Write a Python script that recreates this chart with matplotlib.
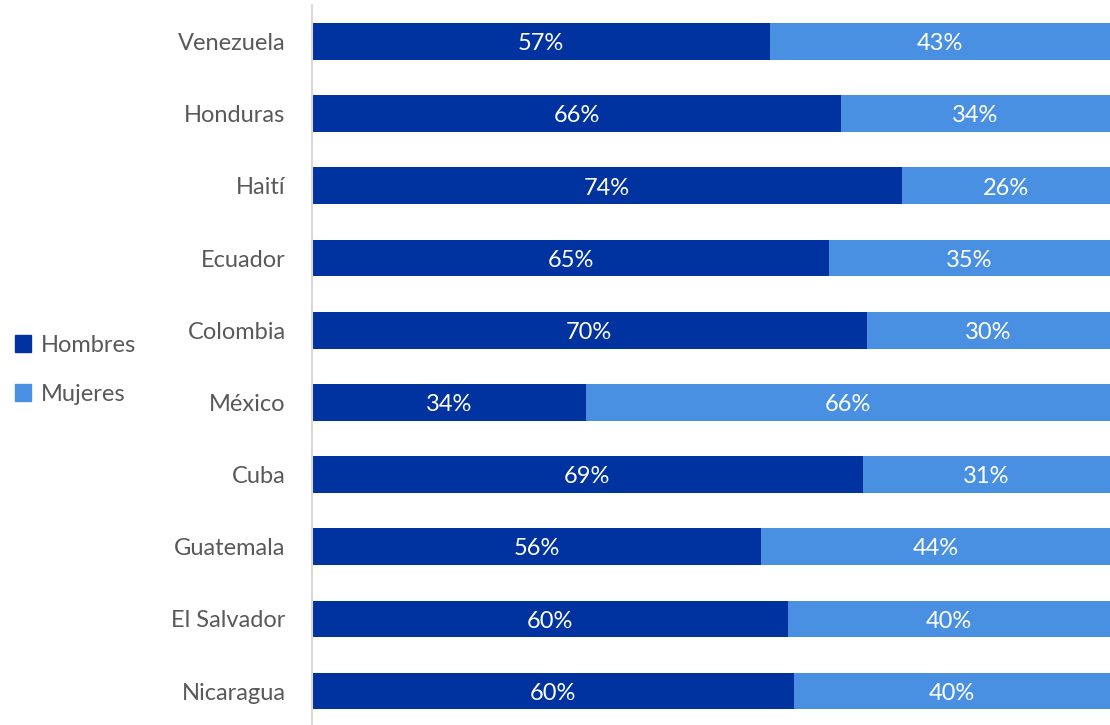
import matplotlib.pyplot as plt
from matplotlib.patches import Patch

# Share of men / women by country (%)
countries = ['Venezuela', 'Honduras', 'Haití', 'Ecuador', 'Colombia',
             'México', 'Cuba', 'Guatemala', 'El Salvador', 'Nicaragua']
hombres = [57.4, 66.3, 73.9, 64.8, 69.5, 34.3, 69.0, 56.3, 59.6, 60.4]
mujeres = [100 - h for h in hombres]
hombres_lbl = ['57%', '66%', '74%', '65%', '70%', '34%', '69%', '56%', '60%', '60%']
mujeres_lbl = ['43%', '34%', '26%', '35%', '30%', '66%', '31%', '44%', '40%', '40%']

dark = '#0033A0'
light = '#4A90E2'
grey = '#595959'

plt.rcParams['font.family'] = ['Lato', 'DejaVu Sans']

fig = plt.figure(figsize=(11.1, 7.25), dpi=100)
ax = fig.add_axes([312 / 1110, 0, 1 - 312 / 1110, 1 - 5 / 725])

y = list(range(len(countries)))
ax.barh(y, hombres, height=0.51, color=dark)
ax.barh(y, mujeres, left=hombres, height=0.51, color=light)

for i in y:
    ax.text(hombres[i] / 2, i + 0.03, hombres_lbl[i], ha='center', va='center',
            color='white', fontsize=17)
    ax.text(hombres[i] + mujeres[i] / 2, i + 0.03, mujeres_lbl[i], ha='center',
            va='center', color='white', fontsize=17)

ax.set_xlim(0, 100)
ax.set_ylim(9.47, -0.506)
ax.set_yticks(y)
ax.set_yticklabels(countries, fontsize=17, color=grey)
ax.tick_params(axis='y', length=0, pad=19)
ax.set_xticks([])
for s in ['top', 'right', 'bottom']:
    ax.spines[s].set_visible(False)
ax.spines['left'].set_color('#d9d9d9')
ax.spines['left'].set_linewidth(1.5)

handles = [Patch(color=dark, label='Hombres'), Patch(color=light, label='Mujeres')]
leg = fig.legend(handles=handles, loc='center left', bbox_to_anchor=(-0.006, 0.49),
                 frameon=False, fontsize=17, handlelength=0.7, handleheight=0.7,
                 handletextpad=0.4, labelspacing=1.2)
for t in leg.get_texts():
    t.set_color(grey)

fig.savefig('out.png', dpi=100)
